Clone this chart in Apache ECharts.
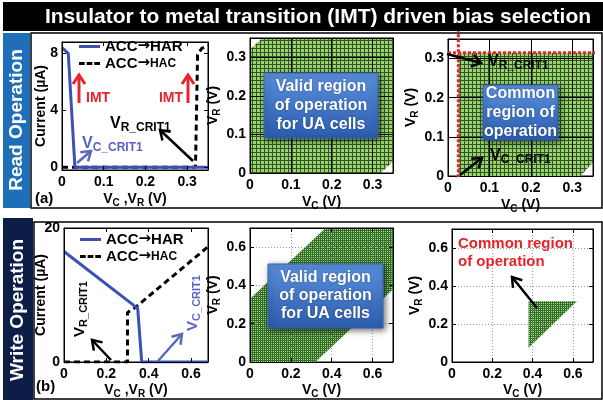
<!DOCTYPE html>
<html>
<head>
<meta charset="utf-8">
<script src="https://cdn.jsdelivr.net/npm/echarts@6/dist/echarts.min.js"></script>
<style>
html,body{margin:0;padding:0;background:#fff}
#chart{width:603px;height:400px}
</style>
</head>
<body>
<div id="chart"></div>
<script>
// (a) read operation, current vs voltage
const readHarV = [0, 0.015, 0.031, 0.35];
const readHarI = [8.4, 8.0, 0, 0];
const readHacV = [0, 0.32, 0.325, 0.335, 0.35];
const readHacI = [0, 0, 7.9, 8.35, 8.55];
// read: valid region and common region (polygon corners, Vc / Vr)
const readValidVc = [0, 0.32, 0.35, 0.35, 0.03, 0];
const readValidVr = [0, 0, 0.03, 0.35, 0.35, 0.32];
const readCommonVc = [0.025, 0.32, 0.35, 0.35, 0.025];
const readCommonVr = [0, 0, 0.035, 0.315, 0.315];
const readCrit = [0.025, 0.315]; // V_C_CRIT1, V_R_CRIT1

// (b) write operation
const writeHarV = [0, 0.348, 0.367, 0.68];
const writeHarI = [16.5, 8.0, 0, 0];
const writeHacV = [0, 0.30, 0.30, 0.335, 0.68];
const writeHacI = [0, 0, 7.4, 8.1, 17.2];
const writeValidVc = [0, 0.32, 0.7, 0.7, 0.37, 0];
const writeValidVr = [0, 0, 0.38, 0.7, 0.7, 0.33];
const writeCommonVc = [0.38, 0.62, 0.38];
const writeCommonVr = [0.32, 0.32, 0.075];

const FONT = '"Liberation Sans", Arial, sans-serif';
const zip = (a, b) => a.map((v, i) => [v, b[i]]);

function mesh(cell, bg, line) {
    const c = document.createElement('canvas');
    c.width = c.height = cell;
    const g = c.getContext('2d');
    g.fillStyle = bg; g.fillRect(0, 0, cell, cell);
    g.fillStyle = line; g.fillRect(0, 0, cell, 1); g.fillRect(0, 0, 1, cell);
    return { image: c, repeat: 'repeat' };
}
const meshLight = mesh(4, '#97d56b', '#33522a');
const meshDark = mesh(2, '#a9dc8e', '#336e27');

const grids = [
    { left: 62, top: 42, width: 146, height: 128 },
    { left: 250, top: 38, width: 143, height: 135 },
    { left: 448, top: 39, width: 145, height: 137 },
    { left: 64, top: 228, width: 144, height: 134 },
    { left: 250, top: 228, width: 143, height: 134 },
    { left: 452, top: 229, width: 141, height: 133 }
];

const subRich = {
    s: { fontSize: 10, fontWeight: 'bold', fontFamily: FONT, color: '#000', verticalAlign: 'bottom', lineHeight: 14 }
};
const nameStyle = { fontSize: 14, fontWeight: 'bold', fontFamily: FONT, color: '#000', lineHeight: 18, rich: subRich };
const labelStyle = { color: '#000', fontSize: 14, fontWeight: 'bold', fontFamily: FONT };
const gridSolid = { show: true, lineStyle: { color: '#000', width: 1 } };
const gridDot = { show: true, lineStyle: { color: '#999', width: 1, type: [1, 2] } };

// x: [min, max, interval, name, nameGap, splitLine]
const xCfg = [
    [0, 0.35, 0.1, 'V{s|C} ,V{s|R} (V)', 20, null],
    [0, 0.35, 0.1, 'V{s|C} (V)', 20, gridSolid],
    [0, 0.35, 0.1, 'V{s|C} (V)', 20, gridSolid],
    [0, 0.68, 0.2, 'V{s|C} ,V{s|R} (V)', 19, null],
    [0, 0.7, 0.2, 'V{s|C} (V)', 19, gridDot],
    [0, 0.7, 0.2, 'V{s|C} (V)', 19, gridDot]
];
const yCfg = [
    [-0.2, 8.8, null, 'Current (µA)', 12, null, [0, 4, 8]],
    [0, 0.35, 0.1, 'V{s|R} (V)', 28, gridSolid, null],
    [0, 0.35, 0.1, 'V{s|R} (V)', 28, gridSolid, null],
    [0, 20, 20, 'Current (µA)', 14, null, null],
    [0, 0.7, 0.2, 'V{s|R} (V)', 28, gridDot, null],
    [0, 0.7, 0.2, 'V{s|R} (V)', 28, gridDot, null]
];

const xAxis = [], yAxis = [];
const tick = { inside: true, length: 4, lineStyle: { color: '#000' } };
const line = { onZero: false, lineStyle: { color: '#000', width: 1 } };
xCfg.forEach((c, i) => {
    xAxis.push({
        gridIndex: i, type: 'value', position: 'bottom', min: c[0], max: c[1], interval: c[2], z: 5,
        axisLine: line, axisTick: tick,
        axisLabel: Object.assign({ margin: 5, showMaxLabel: false }, labelStyle),
        splitLine: c[5] || { show: false },
        name: c[3], nameLocation: 'middle', nameGap: c[4], nameMoveOverlap: false, nameTextStyle: nameStyle
    });
});
yCfg.forEach((c, i) => {
    const custom = c[6];
    const lab = Object.assign({ margin: 4 }, labelStyle);
    const tk = Object.assign({}, tick);
    if (custom) { lab.customValues = custom; tk.customValues = custom; }
    else if (i !== 3) lab.showMaxLabel = false;
    yAxis.push({
        gridIndex: i, type: 'value', position: 'left', min: c[0], max: c[1], interval: c[2] || undefined, z: 5,
        axisLine: line, axisTick: tk, axisLabel: lab,
        splitLine: c[5] || { show: false },
        name: c[3], nameLocation: 'middle', nameGap: c[4], nameMoveOverlap: false, nameTextStyle: nameStyle
    });
});
// box ticks on top and right
xCfg.forEach((c, i) => {
    xAxis.push({ gridIndex: i, type: 'value', position: 'top', min: c[0], max: c[1], interval: c[2], z: 5,
        axisLine: line, axisTick: tick, axisLabel: { show: false }, splitLine: { show: false } });
});
yCfg.forEach((c, i) => {
    const tk = Object.assign({}, tick);
    if (c[6]) tk.customValues = c[6];
    yAxis.push({ gridIndex: i, type: 'value', position: 'right', min: c[0], max: c[1], interval: c[2] || undefined, z: 5,
        axisLine: line, axisTick: tk, axisLabel: { show: false }, splitLine: { show: false } });
});

function region(gi, vc, vr, fill) {
    return {
        type: 'custom', xAxisIndex: gi, yAxisIndex: gi, data: [[0, 0]], silent: true, z: 1,
        renderItem: (params, api) => ({
            type: 'polygon',
            shape: { points: vc.map((v, k) => api.coord([v, vr[k]])) },
            style: { fill: fill, stroke: null }
        })
    };
}
function curve(gi, name, xs, ys, dashed) {
    return {
        type: 'line', name: name, xAxisIndex: gi, yAxisIndex: gi, data: zip(xs, ys),
        symbol: 'none', z: 3, animation: false,
        lineStyle: { color: dashed ? '#000' : '#3b52b4', width: 3, type: dashed ? [6, 4] : 'solid' },
        itemStyle: { color: dashed ? '#000' : '#3b52b4' }
    };
}
const redDot = { color: '#e4252b', width: 3, type: [3, 2] };

const series = [
    curve(0, 'ACC→HAC', readHacV, readHacI, true),
    curve(0, 'ACC→HAR', readHarV, readHarI, false),
    region(1, readValidVc, readValidVr, meshLight),
    region(2, readCommonVc, readCommonVr, meshLight),
    { type: 'line', xAxisIndex: 2, yAxisIndex: 2, clip: false, symbol: 'none', z: 6,
      data: [[readCrit[0], -0.003], [readCrit[0], 0.37]], lineStyle: redDot },
    { type: 'line', xAxisIndex: 2, yAxisIndex: 2, clip: false, symbol: 'none', z: 6,
      data: [[-0.012, readCrit[1]], [0.356, readCrit[1]]], lineStyle: redDot },
    curve(3, 'ACC→HAC', writeHacV, writeHacI, true),
    curve(3, 'ACC→HAR', writeHarV, writeHarI, false),
    region(4, writeValidVc, writeValidVr, meshDark),
    region(5, writeCommonVc, writeCommonVr, meshDark)
];

const legendBase = {
    orient: 'vertical', itemGap: 2, itemWidth: 21, itemHeight: 3, padding: 0, symbolKeepAspect: false,
    data: [
        { name: 'ACC→HAR', icon: 'rect' },
        { name: 'ACC→HAC', icon: 'path://M0,0h6v1h-6z M8,0h6v1h-6z M16,0h6v1h-6z' }
    ],
    formatter: n => n === 'ACC→HAC' ? 'ACC{a|→}{s|HAC}' : 'ACC{a|→}HAR',
    textStyle: { fontSize: 15, fontWeight: 'bold', fontFamily: FONT, color: '#000', lineHeight: 15,
        rich: {
            a: { fontSize: 15, fontWeight: 'bold', fontFamily: '"DejaVu Sans", sans-serif', color: '#000' },
            s: { fontSize: 12, fontWeight: 'bold', fontFamily: FONT, color: '#000' }
        } }
};
const legend = [
    Object.assign({ left: 79, top: 39 }, legendBase),
    Object.assign({ left: 80, top: 232 }, legendBase)
];

// ---- annotations ----
function arrow(x1, y1, x2, y2, color, w) {
    const a = Math.atan2(y2 - y1, x2 - x1), hl = 9, hw = 6;
    const bx = x2 - hl * Math.cos(a), by = y2 - hl * Math.sin(a);
    return [
        { type: 'line', z: 100, shape: { x1: x1, y1: y1, x2: x2, y2: y2 }, style: { stroke: color, lineWidth: w } },
        { type: 'polyline', z: 100, shape: { points: [[bx + hw * Math.sin(a), by - hw * Math.cos(a)], [x2, y2], [bx - hw * Math.sin(a), by + hw * Math.cos(a)]] },
          style: { stroke: color, lineWidth: w, fill: null } }
    ];
}
function subText(x, y, main, sub, color, size, rot) {
    return {
        type: 'text', z: 100, x: x, y: y, rotation: rot || 0,
        style: {
            text: '{v|' + main + '}{s|' + sub + '}', align: rot ? 'center' : 'left', verticalAlign: 'middle',
            rich: {
                v: { fontSize: size, fontWeight: 'bold', fontFamily: FONT, fill: color, lineHeight: size + 4 },
                s: { fontSize: size - 4, fontWeight: 'bold', fontFamily: FONT, fill: color, verticalAlign: 'bottom', lineHeight: size - 2 }
            }
        }
    };
}
function plain(x, y, text, color, size, align, extra) {
    return Object.assign({
        type: 'text', z: 100, x: x, y: y,
        style: { text: text, fill: color, fontSize: size, fontWeight: 'bold', fontFamily: FONT, align: align || 'left', verticalAlign: 'middle' }
    }, extra || {});
}
function infoBox(x, y, w, h, text, lh) {
    return [
        { type: 'rect', z: 100, shape: { x: x, y: y, width: w, height: h },
          style: { fill: { type: 'linear', x: 0, y: 0, x2: 0, y2: 1,
                    colorStops: [{ offset: 0, color: '#5a90dd' }, { offset: 1, color: '#2b5cad' }] },
                   stroke: '#3465b4', lineWidth: 1, shadowBlur: 6, shadowColor: 'rgba(0,0,0,0.55)', shadowOffsetX: 2, shadowOffsetY: 2 } },
        { type: 'text', z: 101, x: x + w / 2, y: y + h / 2,
          style: { text: text, fill: '#fff', fontSize: 16, fontWeight: 'bold', fontFamily: FONT, lineHeight: lh,
                   align: 'center', verticalAlign: 'middle', textShadowColor: 'rgba(0,0,0,0.35)', textShadowBlur: 2 } }
    ];
}

const purple = '#5b60c6';
const graphic = [].concat(
    [
        { type: 'rect', shape: { x: 3, y: 2, width: 600, height: 29 }, style: { fill: '#000' } },
        plain(318, 17, 'Insulator to metal transition (IMT) driven bias selection', '#fff', 21, 'center'),
        { type: 'rect', shape: { x: 3, y: 33, width: 27, height: 175 }, style: { fill: '#1f6fb8' } },
        plain(17, 120, 'Read Operation', '#fff', 19, 'center', { rotation: Math.PI / 2 }),
        { type: 'rect', shape: { x: 3, y: 218, width: 30, height: 182 }, style: { fill: '#0c1d48' } },
        plain(18, 310, 'Write Operation', '#fff', 19, 'center', { rotation: Math.PI / 2 }),
        { type: 'rect', shape: { x: 31, y: 33, width: 571, height: 175 }, style: { fill: null, stroke: '#000', lineWidth: 1.5 } },
        { type: 'rect', shape: { x: 34, y: 222, width: 568, height: 177 }, style: { fill: null, stroke: '#000', lineWidth: 1.5 } },
        plain(35, 199, '(a)', '#000', 15),
        plain(36, 387, '(b)', '#000', 15),
        // (a)
        plain(86, 98, 'IMT', '#e4252b', 14),
        plain(183, 98, 'IMT', '#e4252b', 14, 'right'),
        subText(110, 124, 'V', 'R_CRIT1', '#000', 16),
        subText(82, 144, 'V', 'C_CRIT1', purple, 16),
        // read common region
        subText(488, 62, 'V', 'R_CRIT1', '#000', 16),
        subText(490, 156, 'V', 'C_CRIT1', '#000', 16),
        // (b)
        subText(80, 309, 'V', 'R_CRIT1', '#000', 15, Math.PI / 2),
        subText(193, 303, 'V', 'C_CRIT1', purple, 15, Math.PI / 2),
        plain(458, 244, 'Common region', '#e4252b', 15),
        plain(458, 262, 'of operation', '#e4252b', 15)
    ],
    arrow(79, 103, 79, 75, '#e4252b', 3),
    arrow(188, 103, 188, 75, '#e4252b', 3),
    arrow(193, 161, 160, 130, '#000', 2.5),
    arrow(77, 163, 91, 151, '#5a6ab8', 2.5),
    arrow(447, 54, 481, 63, '#000', 2.5),
    arrow(460, 175, 482, 158, '#000', 2.5),
    arrow(111, 360, 92, 340, '#000', 2.5),
    arrow(158, 361, 182, 334, '#5a6ab8', 2.5),
    arrow(537, 308, 512, 277, '#000', 2.5),
    infoBox(264, 73, 114, 65, 'Valid region\nof operation\nfor UA cells', 19),
    infoBox(483, 85, 75, 55, 'Common\nregion of\noperation', 19),
    infoBox(268, 264, 115, 64, 'Valid region\nof operation\nfor UA cells', 18)
);

const myChart = echarts.init(document.getElementById('chart'));
myChart.setOption({
    animation: false,
    backgroundColor: '#fff',
    grid: grids.map(g => Object.assign({ show: true, borderColor: '#000', borderWidth: 1, backgroundColor: '#fff', outerBoundsMode: 'none' }, g)),
    xAxis: xAxis,
    yAxis: yAxis,
    legend: legend,
    series: series,
    graphic: graphic
});
</script>
</body>
</html>
